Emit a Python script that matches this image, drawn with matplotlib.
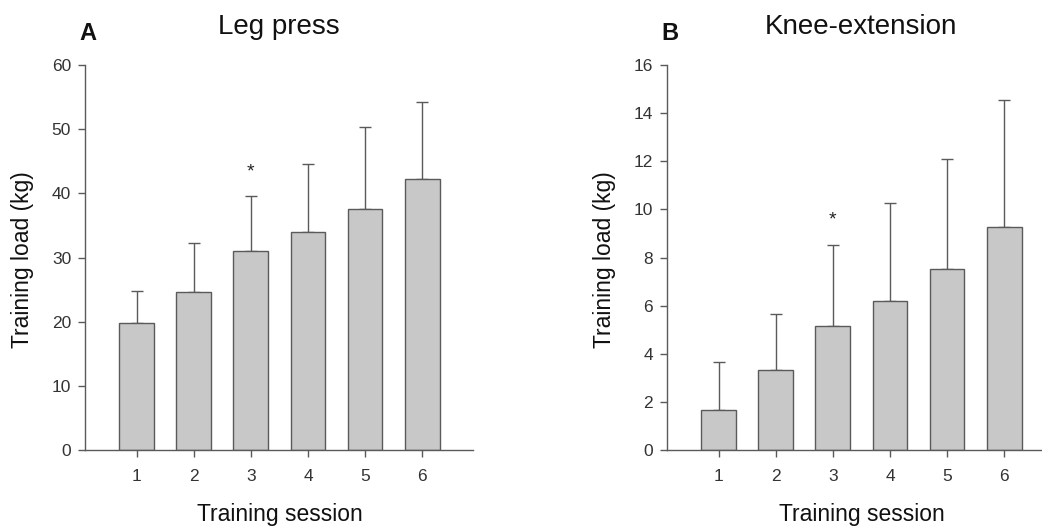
import numpy as np
import matplotlib
matplotlib.use('Agg')
import matplotlib.pyplot as plt

plt.rcParams['font.family'] = ['Liberation Sans', 'DejaVu Sans']

# data
sessions = [1, 2, 3, 4, 5, 6]
leg_press_mean = [19.8, 24.6, 31.0, 33.9, 37.5, 42.2]
leg_press_sd = [5.0, 7.7, 8.6, 10.7, 12.8, 12.1]
knee_ext_mean = [1.66, 3.33, 5.16, 6.19, 7.52, 9.25]
knee_ext_sd = [2.01, 2.31, 3.34, 4.09, 4.58, 5.30]
star_session = 3
leg_press_star = 43.4
knee_ext_star = 9.55

W, H = 1042, 526
fig = plt.figure(figsize=(W / 100, H / 100), dpi=100)

edge = '#5a5a5a'
bar_col = '#c8c8c8'


def px(x, y):
    # pixel (from top-left) to figure fraction
    return x / W, 1 - y / H


def panel(left_px, means, sds, ymax, ystep, star_y, letter, title):
    ax = fig.add_axes([left_px / W, 1 - 450 / H, 388 / W, 385 / H])
    ax.bar(sessions, means, width=0.61, color=bar_col, edgecolor=edge, linewidth=1.0, zorder=2)
    ax.errorbar(sessions, means, yerr=[np.zeros(len(sds)), sds], fmt='none',
                ecolor=edge, elinewidth=1.0, capsize=4.5, capthick=1.0, zorder=1)
    ax.text(star_session, star_y, '*', ha='center', va='center', fontsize=14, color='#222222')
    ax.set_xlim(0.095, 6.89)
    ax.set_ylim(0, ymax)
    ax.set_yticks(np.arange(0, ymax + 0.01, ystep))
    ax.set_xticks(sessions)
    for s in ['top', 'right']:
        ax.spines[s].set_visible(False)
    for s in ['left', 'bottom']:
        ax.spines[s].set_color(edge)
        ax.spines[s].set_linewidth(1.0)
    ax.tick_params(direction='out', length=5, width=1.0, color=edge,
                   labelsize=12.5, labelcolor='#333333', pad=5)
    ax.tick_params(axis='x', pad=9)
    for lab in ax.get_yticklabels() + ax.get_xticklabels():
        lab.set_clip_on(False)

    # texts around the panel
    fig.text(*px(left_px - 62, 260), 'Training load (kg)', rotation=90,
             ha='center', va='center', fontsize=16.5, color='#111111')
    fig.text(*px(left_px + 195, 514), 'Training session',
             ha='center', va='center', fontsize=16.5, color='#111111')
    fig.text(*px(left_px + 194, 27), title,
             ha='center', va='center', fontsize=20, color='#111111')
    fig.text(*px(left_px + 3, 33), letter,
             ha='center', va='center', fontsize=17, fontweight='bold', color='#111111')
    return ax


panel(85, leg_press_mean, leg_press_sd, 60, 10, leg_press_star, 'A', 'Leg press')
panel(667, knee_ext_mean, knee_ext_sd, 16, 2, knee_ext_star, 'B', 'Knee-extension')

fig.savefig('out.png', dpi=100)
